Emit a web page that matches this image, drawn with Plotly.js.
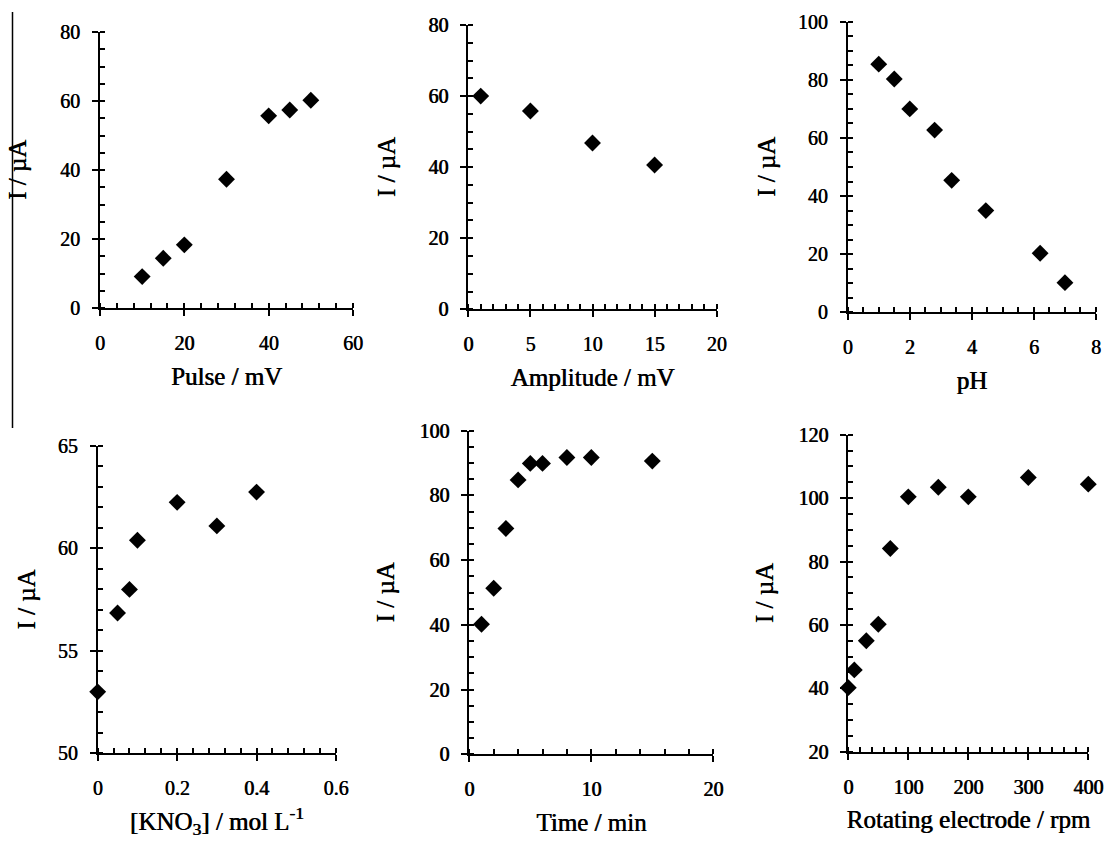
<!DOCTYPE html>
<html>
<head>
<meta charset="utf-8">
<script src="https://cdn.plot.ly/plotly-3.0.1.min.js"></script>
<style>html,body{margin:0;padding:0;background:#fff;}#chart{width:1114px;height:843px;}</style>
</head>
<body>
<div id="chart"></div>
<script>
// Panel data
var pulseX = [10, 15, 20, 30, 40, 45, 50];
var pulseY = [9.1, 14.4, 18.3, 37.3, 55.7, 57.4, 60.2];

var ampX = [1, 5, 10, 15];
var ampY = [60, 55.8, 46.8, 40.6];

var phX = [1, 1.5, 2, 2.8, 3.35, 4.45, 6.2, 7];
var phY = [85.4, 80.3, 70, 62.7, 45.4, 35, 20.3, 10.2];

var kno3X = [0, 0.05, 0.08, 0.1, 0.2, 0.3, 0.4];
var kno3Y = [53.0, 56.85, 58.0, 60.4, 62.25, 61.1, 62.75];

var timeX = [1, 2, 3, 4, 5, 6, 8, 10, 15];
var timeY = [40.2, 51.3, 69.8, 84.8, 89.9, 89.9, 91.7, 91.7, 90.6];

var rpmX = [0, 10, 30, 50, 70, 100, 150, 200, 300, 400];
var rpmY = [40.2, 45.8, 55, 60.2, 84.1, 100.4, 103.4, 100.4, 106.5, 104.4];

var xTitles = ['Pulse / mV', 'Amplitude / mV', 'pH', '[KNO<sub>3</sub>] / mol L<sup>-1</sup>', 'Time / min', 'Rotating electrode / rpm'];
var yTitle = 'I / µA';

var W = 1114, H = 843;
function dom(a, b, size, flip) {
  return flip ? [1 - b / size, 1 - a / size] : [a / size, b / size];
}

var FONT = 'Liberation Serif';
var HEAVY = '0.6px 0 0 #000';
var panels = [
  {x: pulseX, y: pulseY, px: [100, 353], py: [32, 308], xr: [0, 60], xd: 20, xm: 4, yr: [0, 80], yd: 20, ym: 5, ys: 26},
  {x: ampX, y: ampY, px: [468.3, 716.7], py: [25, 309.3], xr: [0, 20], xd: 5, xm: 1, yr: [0, 80], yd: 20, ym: 5, ys: 26},
  {x: phX, y: phY, px: [847.7, 1096], py: [21.7, 312.3], xr: [0, 8], xd: 2, xm: 0.5, yr: [0, 100], yd: 20, ym: 5, ys: 15},
  {x: kno3X, y: kno3Y, px: [97.7, 336], py: [446, 753.3], xr: [0, 0.6], xd: 0.2, xm: 0.04, yr: [50, 65], yd: 5, ym: 1, ys: 15},
  {x: timeX, y: timeY, px: [469.3, 713.3], py: [430.7, 754.3], xr: [0, 20], xd: 10, xm: 2, yr: [0, 100], yd: 20, ym: 5, ys: 18},
  {x: rpmX, y: rpmY, px: [848.3, 1088.3], py: [434.7, 751.7], xr: [0, 400], xd: 100, xm: 20, yr: [20, 120], yd: 20, ym: 5, ys: 18}
];

var data = [];
var layout = {
  width: W, height: H,
  margin: {l: 0, r: 0, t: 0, b: 0},
  paper_bgcolor: '#fff', plot_bgcolor: '#fff',
  showlegend: false,
  font: {family: FONT, color: '#000'},
  shapes: [{
    type: 'line', xref: 'paper', yref: 'paper',
    x0: 12.5 / W, x1: 12.5 / W, y0: 1 - 12 / H, y1: 1 - 428 / H,
    line: {color: '#000', width: 1.5}
  }]
};

panels.forEach(function (p, i) {
  var n = i === 0 ? '' : String(i + 1);
  data.push({
    type: 'scatter', mode: 'markers',
    x: p.x, y: p.y,
    xaxis: 'x' + n, yaxis: 'y' + n,
    cliponaxis: false,
    marker: {symbol: 'diamond', size: 13, color: '#000'},
    hoverinfo: 'x+y'
  });
  var common = {
    showgrid: false, zeroline: false, showline: true,
    linecolor: '#000', linewidth: 2,
    ticks: 'outside', ticklen: 6, tickwidth: 2, tickcolor: '#000',
    tickfont: {family: FONT, size: 20, color: '#000', shadow: HEAVY},
    automargin: false, fixedrange: true
  };
  layout['xaxis' + n] = Object.assign({}, common, {
    domain: dom(p.px[0], p.px[1], W, false),
    anchor: 'y' + n,
    range: p.xr, tick0: 0, dtick: p.xd,
    minor: {dtick: p.xm, ticks: 'inside', ticklen: 5, tickwidth: 1.5, tickcolor: '#000'},
    ticklabelstandoff: 10,
    title: {text: xTitles[i], font: {family: FONT, size: 25, color: '#000', shadow: HEAVY}, standoff: 14}
  });
  layout['yaxis' + n] = Object.assign({}, common, {
    domain: dom(p.py[0], p.py[1], H, true),
    anchor: 'x' + n,
    range: p.yr, tick0: p.yr[0], dtick: p.yd,
    minor: {dtick: p.ym, ticks: 'inside', ticklen: 5, tickwidth: 1.5, tickcolor: '#000'},
    ticklabelstandoff: 8,
    title: {text: yTitle, font: {family: FONT, size: 25, color: '#000', shadow: HEAVY}, standoff: p.ys}
  });
});

Plotly.newPlot('chart', data, layout, {displayModeBar: false});
</script>
</body>
</html>
